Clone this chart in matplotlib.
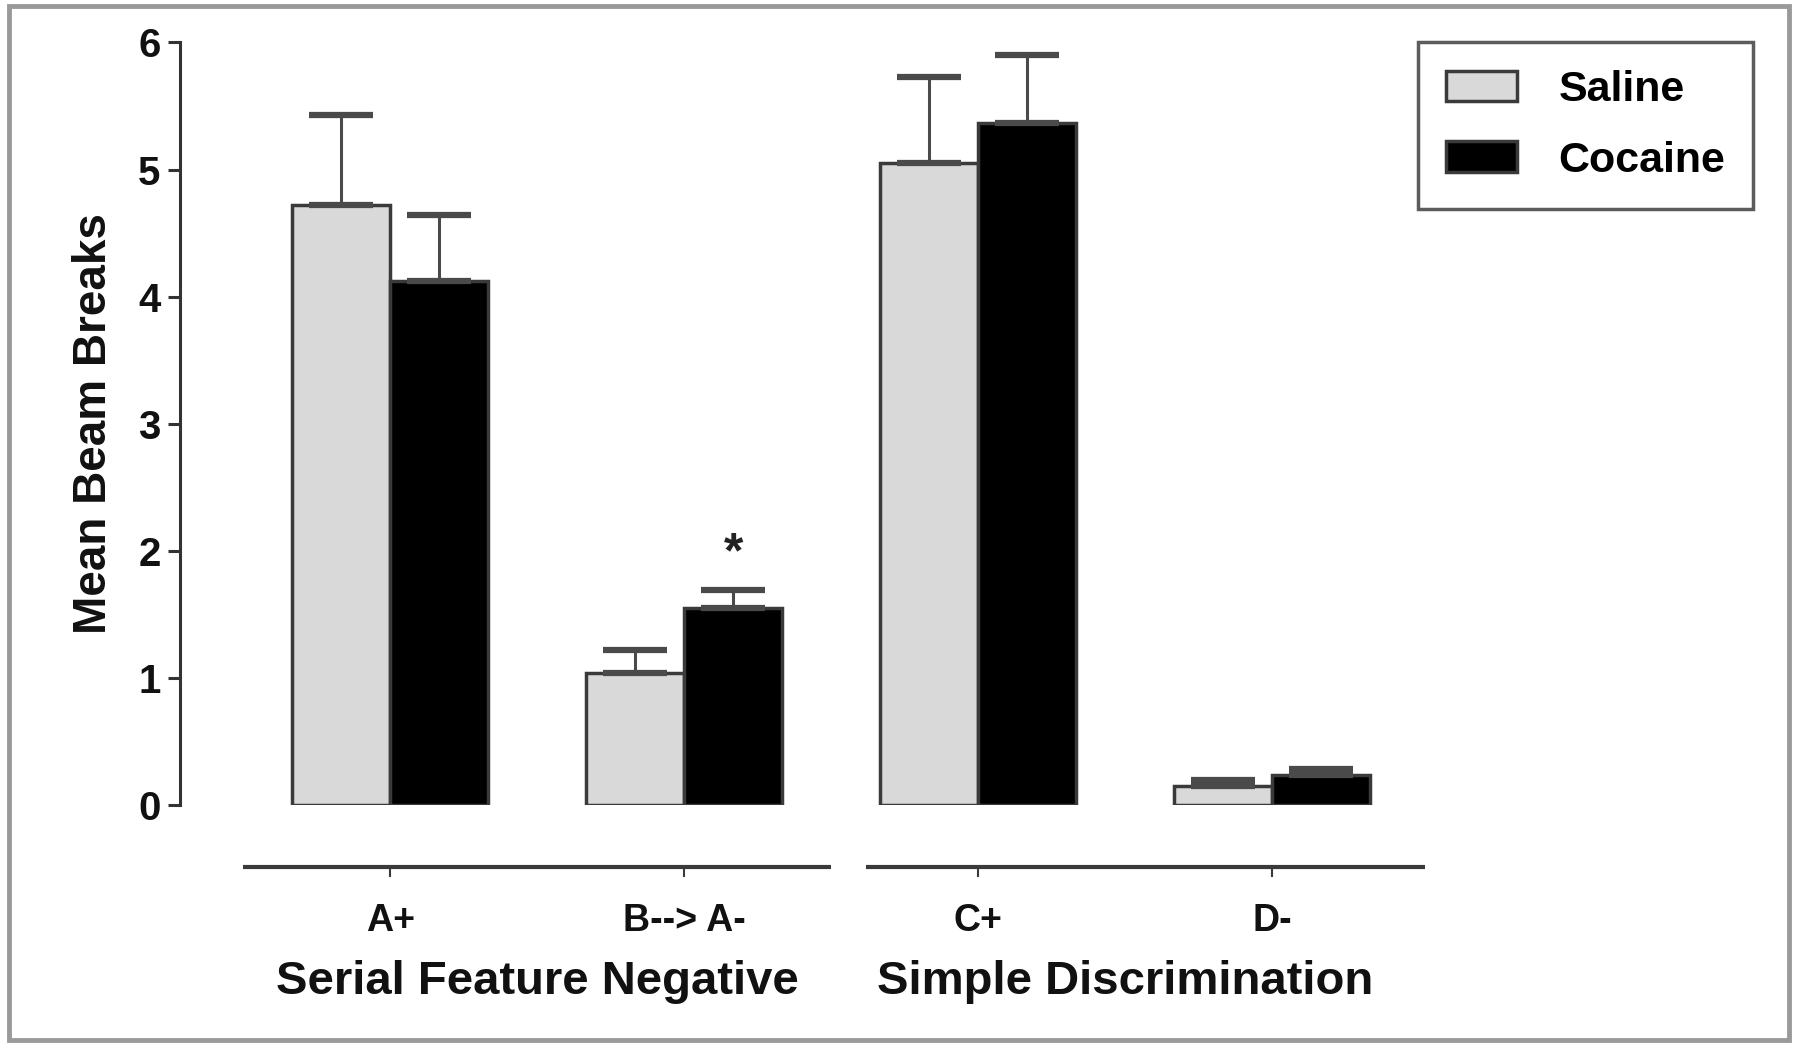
import matplotlib
matplotlib.use("Agg")

import matplotlib.pyplot as plt
import matplotlib.transforms as mtransforms
from matplotlib.patches import Rectangle
import numpy as np

# ── data
conditions   = ["A+", "B--> A-", "C+", "D-"]
groups       = ["Serial Feature Negative", "Simple Discrimination"]
group_spans  = [(0, 1), (2, 3)]          # which conditions belong to each group
saline_mean  = [4.72, 1.04, 5.05, 0.15]
saline_sem   = [0.71, 0.18, 0.68, 0.05]
cocaine_mean = [4.12, 1.55, 5.37, 0.24]
cocaine_sem  = [0.52, 0.14, 0.53, 0.04]
signif       = [False, True, False, False]   # asterisk above cocaine bar

SALINE_C  = "#d9d9d9"
COCAINE_C = "#000000"
EDGE_C    = "#3a3a3a"
ERR_C     = "#4a4a4a"

plt.rcParams["font.family"] = ["Liberation Sans Narrow", "Liberation Sans", "DejaVu Sans"]
plt.rcParams["font.weight"] = "bold"

fig = plt.figure(figsize=(18, 10.49), dpi=100)
ax = fig.add_axes([0.1, 0.2326, 0.874, 0.7269])

x = np.arange(len(conditions))
w = 1 / 3

err_kw = dict(ecolor=ERR_C, elinewidth=2.2, capsize=23, capthick=4.5)
ax.bar(x - w / 2, saline_mean, w, color=SALINE_C, edgecolor=EDGE_C, linewidth=2.5,
       yerr=[np.zeros(len(x)), saline_sem], error_kw=err_kw, label="Saline", zorder=3)
ax.bar(x + w / 2, cocaine_mean, w, color=COCAINE_C, edgecolor=EDGE_C, linewidth=2.5,
       yerr=[np.zeros(len(x)), cocaine_sem], error_kw=err_kw, label="Cocaine", zorder=3)

for i, s in enumerate(signif):
    if s:
        top = cocaine_mean[i] + cocaine_sem[i]
        ax.text(x[i] + w / 2, top + 0.1, "*", ha="center", va="bottom",
                fontsize=36, color="#222222")

ax.set_xlim(-0.715, 4.637)
ax.set_ylim(0, 6)
ax.set_yticks(range(0, 7))
ax.tick_params(axis="y", length=9, width=2.2, direction="out", labelsize=29,
               pad=5, colors="#333333", labelcolor="#111111")
for lab in ax.get_yticklabels():
    lab.set_fontweight("bold")

for sp in ("top", "right", "bottom"):
    ax.spines[sp].set_visible(False)
ax.spines["left"].set_linewidth(2.2)
ax.spines["left"].set_color("#333333")
ax.set_xticks([])

ax.set_ylabel("Mean Beam Breaks", fontsize=33, fontweight="bold", labelpad=16,
              color="#111111")

# ── broken x axis, one segment per group
trans = mtransforms.blended_transform_factory(ax.transData, ax.transAxes)
axis_y = -0.081
pad_l = [0.5, 0.38]
pad_r = [0.5, 0.52]
for gi, (a, b) in enumerate(group_spans):
    ax.plot([x[a] - pad_l[gi], x[b] + pad_r[gi]], [axis_y, axis_y], color="#3a3a3a",
            lw=3, transform=trans, clip_on=False, solid_capstyle="butt")
    for k in (a, b):
        ax.plot([x[k], x[k]], [axis_y, axis_y - 0.012], color="#3a3a3a", lw=1.5,
                transform=trans, clip_on=False)
    ax.text((x[a] + x[b]) / 2, -0.232, groups[gi], transform=trans, ha="center",
            va="center", fontsize=34, fontweight="bold", color="#111111")

for k, name in enumerate(conditions):
    ax.text(x[k], -0.152, name, transform=trans, ha="center", va="center",
            fontsize=27, fontweight="bold", color="#111111")

leg = ax.legend(loc="upper right", bbox_to_anchor=(1.0, 1.0), fontsize=31,
                frameon=True, fancybox=False, edgecolor="#333333",
                handlelength=1.65, handleheight=0.7, borderpad=0.65,
                labelspacing=0.7, handletextpad=0.95, borderaxespad=0)
leg.get_frame().set_linewidth(2.5)
for h in leg.legend_handles:
    h.set_edgecolor(EDGE_C)
    h.set_linewidth(2.5)

# outer frame round the whole panel
fig.patches.append(Rectangle((0.005, 0.009), 0.989, 0.985, transform=fig.transFigure,
                             fill=False, edgecolor="#9a9a9a", linewidth=3.5))

fig.savefig("out.png", dpi=100, facecolor="white")
